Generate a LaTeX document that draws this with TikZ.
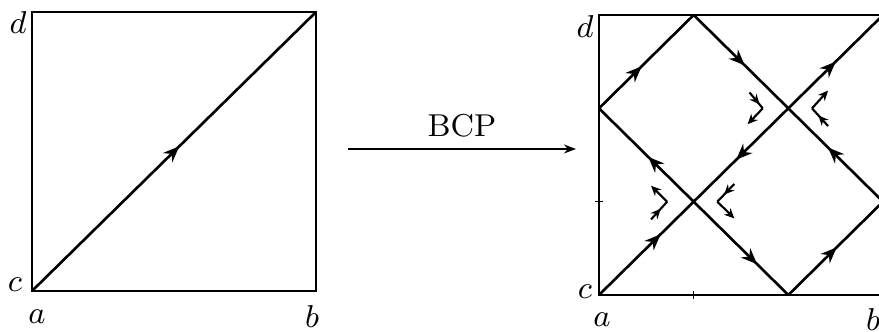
\documentclass[tikz,border=0pt]{standalone}
\usepackage{amsmath}
\usepackage{tikz}
\usetikzlibrary{arrows.meta, decorations.markings}
\tikzset{
  sqframe/.style={line width=0.4pt},
  orbit/.style={line width=0.75pt},
  orbitarr/.style={
    orbit, postaction={decorate},
    decoration={markings,
      mark=at position #1 with {\arrow{Stealth[length=1.6mm, width=1.3mm]}}}
  },
  sepline/.style={line width=0.6pt},
  sepin/.style={
    sepline, postaction={decorate},
    decoration={markings,
      mark=at position #1 with {\arrow{Stealth[length=1mm, width=0.9mm]}}}
  },
  sepout/.style={sepline, -{Stealth[length=1mm, width=0.9mm]}},
  maparr/.style={line width=0.45pt, -{Stealth[length=1.2mm, width=0.9mm]}}
}

\begin{document}
\begin{tikzpicture}[
  cornerlabel/.style={font=\small, inner sep=0pt}
]
\useasboundingbox (0,0) rectangle (8.79,3.32);

% Left square
\coordinate (lsw) at (0.32,0.41);
\coordinate (lse) at (3.16,0.41);
\coordinate (lne) at (3.16,3.20);
\coordinate (lnw) at (0.32,3.20);
\draw[sqframe] (lsw) -- (lse) -- (lne) -- (lnw) -- cycle;
\draw[orbitarr=0.52] (lsw) -- (lne);
\node[cornerlabel] (ld) at ([shift={(-0.14cm,-0.11cm)}]lnw) {$d$};
\node[cornerlabel] (lc) at ([shift={(-0.17cm,0.06cm)}]lsw) {$c$};
\node[cornerlabel] (la) at ([shift={(0.05cm,-0.26cm)}]lsw) {$a$};
\node[cornerlabel] (lb) at ([shift={(-0.04cm,-0.26cm)}]lse) {$b$};

% Map arrow
\coordinate (bcpfrom) at (3.48,1.83);
\coordinate (bcpto) at (5.76,1.83);
\draw[maparr] (bcpfrom) -- (bcpto);
\node[font=\small] (bcp) at (4.62,2.06) {BCP};

% Right square
\begin{scope}[shift={(5.99cm,0.37cm)}, x=0.9467cm, y=0.9333cm]
\coordinate (rsw) at (0,0);
\coordinate (rse) at (3,0);
\coordinate (rne) at (3,3);
\coordinate (rnw) at (0,3);
\coordinate (l2) at (0,2);
\coordinate (t1) at (1,3);
\coordinate (b2) at (2,0);
\coordinate (r1) at (3,1);
\coordinate (x11) at (1,1);
\coordinate (x22) at (2,2);
\coordinate (bt) at (1,0);
\coordinate (lt) at (0,1);
\draw[sqframe] (rsw) -- (rse) -- (rne) -- (rnw) -- cycle;
\draw[sqframe] ([yshift=-1pt]bt) -- ([yshift=1pt]bt);
\draw[sqframe] ([xshift=-1pt]lt) -- ([xshift=1pt]lt);

% orbits
\draw[orbitarr=0.65] (rsw) -- (x11);
\draw[orbitarr=0.55] (x22) -- (x11);
\draw[orbitarr=0.50] (x22) -- (rne);
\draw[orbitarr=0.45] (l2) -- (t1);
\draw[orbitarr=0.54] (t1) -- (x22);
\draw[orbitarr=0.58] (r1) -- (x22);
\draw[orbitarr=0.48] (x11) -- (l2);
\draw[orbitarr=0.67] (x11) -- (b2);
\draw[orbitarr=0.51] (b2) -- (r1);

% bent arrows at the crossings
\coordinate (s1) at ([shift={(-0.28,0)}]x11);
\coordinate (s2) at ([shift={(0.25,0)}]x11);
\coordinate (s3) at ([shift={(-0.27,0)}]x22);
\coordinate (s4) at ([shift={(0.25,0)}]x22);
\draw[sepin=0.6] ([shift={(-0.45,-0.19)}]x11) -- (s1);
\draw[sepout] (s1) -- ([shift={(-0.45,0.17)}]x11);
\draw[sepin=0.6] ([shift={(0.43,0.19)}]x11) -- (s2);
\draw[sepout] (s2) -- ([shift={(0.43,-0.18)}]x11);
\draw[sepin=0.75] ([shift={(-0.41,0.17)}]x22) -- (s3);
\draw[sepout] (s3) -- ([shift={(-0.43,-0.17)}]x22);
\draw[sepin=0.6] ([shift={(0.42,-0.19)}]x22) -- (s4);
\draw[sepout] (s4) -- ([shift={(0.42,0.19)}]x22);

\node[cornerlabel] (rd) at ([shift={(-0.14cm,-0.12cm)}]rnw) {$d$};
\node[cornerlabel] (rc) at ([shift={(-0.14cm,0.03cm)}]rsw) {$c$};
\node[cornerlabel] (ra) at ([shift={(0.03cm,-0.25cm)}]rsw) {$a$};
\node[cornerlabel] (rb) at ([shift={(-0.10cm,-0.25cm)}]rse) {$b$};
\end{scope}

\end{tikzpicture}
\end{document}
